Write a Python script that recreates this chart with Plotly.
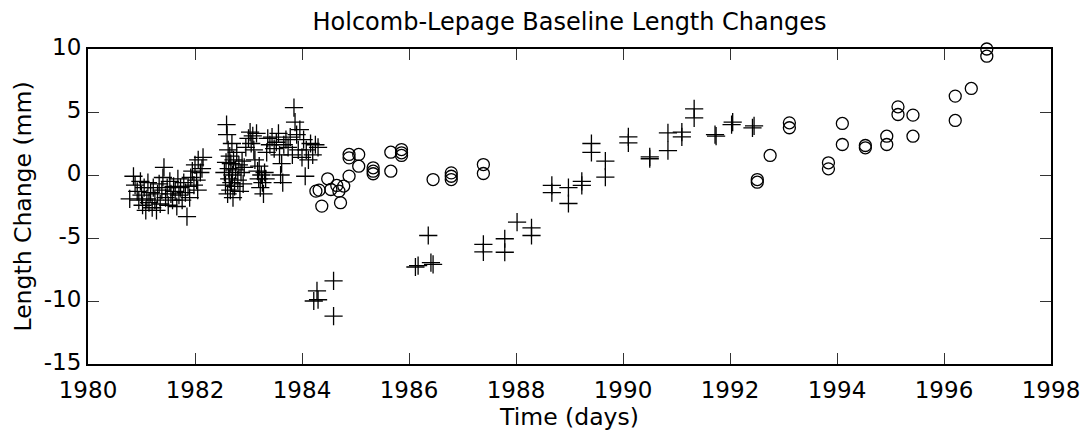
import plotly.graph_objects as go

# Crosses: older (EDM) measurements, (decimal year, length change in mm)
cross_year = [
    1980.78, 1980.85, 1980.88, 1980.92, 1980.95, 1980.98, 1981.00, 1981.02, 1981.05, 1981.08,
    1981.10, 1981.12, 1981.14, 1981.17, 1981.20, 1981.22, 1981.25, 1981.28, 1981.30, 1981.33,
    1981.35, 1981.38, 1981.40, 1981.42, 1981.45, 1981.48, 1981.50, 1981.53, 1981.55, 1981.58,
    1981.60, 1981.63, 1981.66, 1981.68, 1981.70, 1981.73, 1981.76, 1981.79, 1981.82, 1981.85,
    1981.87, 1981.90, 1981.92, 1981.95, 1981.98, 1982.00, 1982.03, 1982.06, 1982.10, 1982.13,
    1982.15, 1982.05,
    1982.55, 1982.57, 1982.58, 1982.59, 1982.60, 1982.61, 1982.62, 1982.63, 1982.64, 1982.65,
    1982.66, 1982.67, 1982.68, 1982.69, 1982.70, 1982.71, 1982.72, 1982.74, 1982.76, 1982.78,
    1982.80, 1982.82, 1982.84, 1982.86, 1982.88, 1982.90, 1982.92, 1982.95, 1983.00, 1983.03,
    1983.05, 1983.08, 1983.10, 1983.12, 1983.15, 1983.17, 1983.19, 1983.20, 1983.22, 1983.24,
    1983.26, 1983.28, 1983.30, 1983.32, 1983.34, 1983.36, 1983.40, 1983.44, 1983.48, 1983.52,
    1983.56, 1983.58, 1983.60, 1983.62, 1983.64, 1983.66, 1983.70, 1983.74, 1983.78, 1983.82,
    1983.85, 1983.87, 1983.90, 1983.93, 1983.96, 1984.00, 1984.03, 1984.06, 1984.08, 1984.12,
    1984.16, 1984.20, 1984.25, 1984.30,
    1984.22, 1984.28, 1984.30, 1984.59, 1984.59,
    1986.12, 1986.17, 1986.36, 1986.41, 1986.45,
    1987.39, 1987.39, 1987.79, 1987.79, 1988.02, 1988.29, 1988.29,
    1988.67, 1988.67, 1988.98, 1988.98, 1989.23, 1989.23, 1989.41, 1989.41,
    1989.67, 1989.67, 1990.10, 1990.10, 1990.50, 1990.50, 1990.84, 1990.84,
    1991.10, 1991.10, 1991.33, 1991.33, 1991.72, 1991.74, 1992.03, 1992.05,
    1992.42, 1992.45,
]
cross_mm = [
    -1.9, -0.1, -0.8, -1.3, -2.0, -0.5, -1.6, -2.4, -1.0, -2.8,
    -1.9, -0.6, -2.2, -1.4, -2.6, -1.0, -2.0, -2.8, -1.5, -0.7,
    -2.3, -1.2, -0.2, 0.6, -1.8, -1.0, -2.4, -0.5, -1.5, -2.0,
    -0.9, -1.3, -2.5, -0.3, -1.6, -1.0, -2.0, -0.6, -1.4, -3.3,
    -0.9, -1.8, -0.2, 0.3, -0.8, 0.8, -0.4, 1.2, 0.2, 0.5,
    1.4, -1.2,
    0.2, -0.8, 1.0, 4.0, 3.2, -1.5, 2.0, 0.5, -0.3, 1.5,
    -1.2, 0.9, -0.6, 2.5, 0.0, -1.8, 1.2, -0.9, 0.4, 1.8,
    -0.4, 0.8, -1.3, 0.2, 1.1, -0.7, 0.6, 2.2, 2.9, 3.4,
    2.5, 3.1, 2.0, 1.2, 3.3, 0.3, -0.3, 0.7, -1.0, 0.0,
    -0.6, -1.5, 0.2, -0.3, 1.8, 2.9, 2.4, 3.0, 2.1, 2.6,
    3.3, 1.6, 0.0, 0.9, -0.6, 2.4, 2.8, 2.2, 3.0, 1.6,
    5.35, 4.2, 3.2, 2.0, 3.6, 1.4, 2.8, -0.1, 2.0, 1.2,
    2.5, 1.6, 2.4, 2.2,
    -10.0, -9.2, -9.9, -8.4, -11.2,
    -7.3, -7.2, -4.8, -6.95, -7.1,
    -5.5, -6.1, -5.06, -6.13, -3.74, -4.2, -4.8,
    -0.83, -1.4, -1.0, -2.26, -0.5, -0.83, 2.5, 1.8,
    1.1, -0.17, 3.03, 2.55, 1.44, 1.29, 3.35, 1.94,
    3.4, 3.03, 5.25, 4.54, 3.2, 3.08, 4.0, 4.2,
    3.74, 3.9,
]

# Circles: newer measurements
circle_year = [
    1984.26, 1984.32, 1984.48, 1984.37, 1984.54, 1984.65, 1984.69, 1984.78, 1984.72, 1984.88,
    1984.88, 1984.88, 1985.06, 1985.06, 1985.33, 1985.33, 1985.33, 1985.66, 1985.66, 1985.86,
    1985.86, 1985.86, 1986.45, 1986.79, 1986.79, 1986.79, 1987.39, 1987.39,
    1992.51, 1992.51, 1992.75, 1993.11, 1993.11, 1993.84, 1993.84, 1994.10, 1994.10,
    1994.53, 1994.53, 1994.93, 1994.93, 1995.14, 1995.14, 1995.42, 1995.42,
    1996.21, 1996.21, 1996.51, 1996.80, 1996.80,
]
circle_mm = [
    -1.28, -1.2, -0.3, -2.47, -1.15, -0.83, -1.28, -0.88, -2.2, -0.09,
    1.63, 1.36, 1.63, 0.7, 0.57, 0.3, 0.1, 1.81, 0.3, 2.02,
    1.76, 1.55, -0.36, 0.17, -0.1, -0.36, 0.83, 0.12,
    -0.36, -0.57, 1.55, 4.14, 3.75, 0.97, 0.49, 4.09, 2.42,
    2.34, 2.16, 3.08, 2.42, 5.41, 4.8, 4.75, 3.08,
    6.26, 4.33, 6.87, 10.0, 9.43,
]

x_ticks = [1980, 1982, 1984, 1986, 1988, 1990, 1992, 1994, 1996, 1998]
y_ticks = [-15, -10, -5, 0, 5, 10]

FONT = "DejaVu Sans"

fig = go.Figure()
fig.add_trace(go.Scatter(
    x=cross_year, y=cross_mm, mode="markers", cliponaxis=False,
    marker=dict(symbol="cross-thin", size=13, line=dict(color="black", width=1.3)),
    showlegend=False,
))
fig.add_trace(go.Scatter(
    x=circle_year, y=circle_mm, mode="markers", cliponaxis=False,
    marker=dict(symbol="circle-open", size=12, color="black", line=dict(color="black", width=1.3)),
    showlegend=False,
))

axis_common = dict(
    showgrid=False, zeroline=False, showline=True, linecolor="black", linewidth=2,
    mirror="ticks", ticks="inside", ticklen=11, tickwidth=1, tickcolor="#333",
    tickfont=dict(family=FONT, size=23, color="black"),
)

fig.update_layout(
    width=1092, height=432,
    margin=dict(l=88, r=31, t=49, b=68),
    paper_bgcolor="white", plot_bgcolor="white",
    title=dict(text="Holcomb-Lepage Baseline Length Changes", x=0.5, xref="paper",
               xanchor="center", y=1 - 22 / 432, yref="container", yanchor="middle",
               font=dict(family=FONT, size=24, color="black")),
    xaxis=dict(range=[1980, 1998], tickvals=x_ticks, ticktext=[str(v) for v in x_ticks],
               ticklabelstandoff=4,
               title=dict(text="Time (days)", font=dict(family=FONT, size=23.5, color="black"), standoff=1),
               **axis_common),
    yaxis=dict(range=[-15, 10], tickvals=y_ticks, ticktext=[str(v) for v in y_ticks],
               ticklabelshift=-2,
               title=dict(text="Length Change (mm)", font=dict(family=FONT, size=23.5, color="black"), standoff=6),
               **axis_common),
)

fig.write_html("out.html")
